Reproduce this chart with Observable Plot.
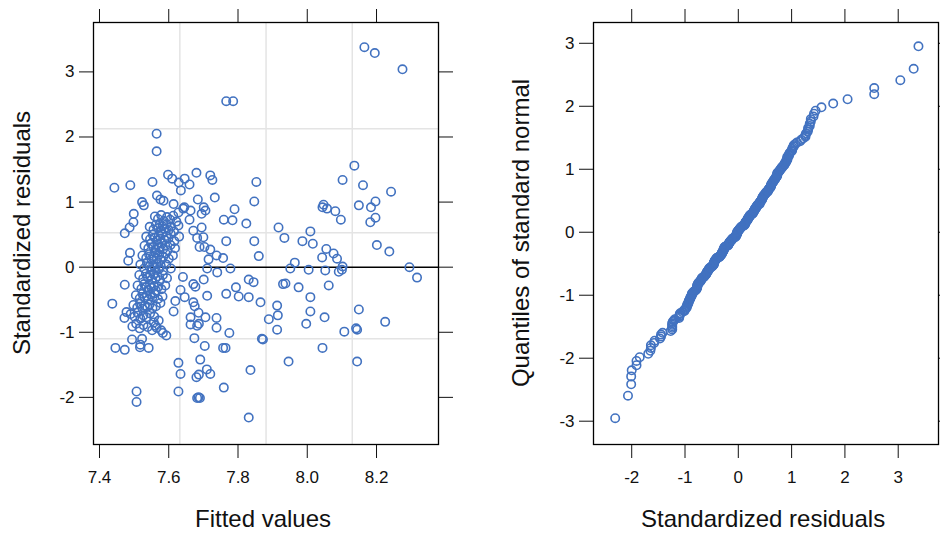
<!DOCTYPE html>
<html>
<head>
<meta charset="utf-8">
<script src="https://cdn.jsdelivr.net/npm/d3@7"></script>
<script src="https://cdn.jsdelivr.net/npm/@observablehq/plot@0.6"></script>
<style>
  html, body { margin: 0; padding: 0; background: #fff; }
  #wrap { position: relative; width: 940px; height: 534px; overflow: hidden; font-family: "Liberation Sans", Arial, sans-serif; color: #000; }
  .panel { position: absolute; top: 0; }
  .title { position: absolute; font-size: 24px; white-space: nowrap; color: #111; }
</style>
</head>
<body>
<div id="wrap">
  <div id="left" class="panel" style="left:0px"></div>
  <div id="right" class="panel" style="left:470px"></div>
  <div class="title" id="tl1">Standardized residuals</div>
  <div class="title" id="tl2">Fitted values</div>
  <div class="title" id="tr1">Quantiles of standard normal</div>
  <div class="title" id="tr2">Standardized residuals</div>
</div>
<script>
// ---- data ----
const fitted = [
  // sparse points
  8.165,8.195,8.275,7.766,7.786,7.565,7.565,7.443,7.489,7.553,
  7.598,7.680,7.720,7.726,7.646,7.660,7.610,7.629,7.853,7.733,
  7.847,7.790,7.759,7.784,7.824,7.917,7.934,8.009,7.986,8.016,
  7.766,7.847,7.860,8.136,8.102,8.161,8.242,8.047,8.057,8.044,
  8.081,8.097,8.149,8.197,8.184,8.197,8.182,8.201,8.237,8.055,
  8.076,8.043,8.086,8.102,8.091,8.100,8.052,8.004,7.964,7.951,
  8.295,8.317,8.062,7.975,8.009,7.930,7.937,8.009,7.913,7.915,
  7.889,7.913,7.997,8.050,8.149,8.225,8.107,8.141,8.144,7.869,
  7.872,8.044,7.946,8.144,7.836,7.831,7.759,7.682,7.690,7.628,
  7.507,7.507,7.628,7.634,7.691,7.720,7.687,7.680,7.704,7.674,
  7.757,7.764,7.775,7.738,7.738,7.706,7.663,7.682,7.663,7.687,
  7.675,7.711,7.701,7.677,7.646,7.766,7.794,7.802,7.831,7.831,
  7.845,7.865,7.740,7.778,7.757,7.738,7.720,7.703,7.682,7.684,
  7.706,7.701,7.645,7.663,7.660,7.437,7.472,7.478,7.446,7.473,
  7.494,7.523,7.518,7.542,7.583,7.593,7.578,7.557,7.562,7.614,
  7.619,7.634,7.641,7.473,7.483,7.488,7.473,7.499,7.523,7.528,
  7.576,7.566,
  // dense cluster
  7.560,7.569,7.578,7.586,7.595,7.604,7.613,7.622,7.574,
  7.545,7.556,7.563,7.570,7.576,7.582,7.588,7.594,7.600,7.607,7.615,7.628,
  7.535,7.546,7.554,7.560,7.566,7.571,7.576,7.581,7.587,7.593,7.599,7.606,7.616,7.630,
  7.530,7.541,7.549,7.556,7.562,7.567,7.572,7.578,7.584,7.590,7.597,7.605,7.618,
  7.524,7.535,7.543,7.550,7.556,7.561,7.566,7.572,7.578,7.584,7.591,7.600,7.612,
  7.518,7.529,7.537,7.544,7.550,7.555,7.560,7.565,7.571,7.577,7.584,7.593,7.606,
  7.515,7.526,7.534,7.540,7.546,7.551,7.556,7.562,7.568,7.575,7.583,7.595,
  7.510,7.521,7.529,7.535,7.541,7.546,7.551,7.557,7.563,7.570,7.579,7.590,
  7.505,7.516,7.524,7.530,7.536,7.541,7.547,7.553,7.560,7.569,7.582,
  7.498,7.509,7.517,7.524,7.531,7.538,7.545,7.553,7.563,7.576,
  7.490,7.501,7.510,7.518,7.527,7.536,7.546,7.558,7.571,
  7.495,7.506,7.516,7.527,7.539,7.552,
  // cluster edge
  7.635,7.585,7.614,7.628,7.642,7.695,7.487,7.498,7.671,7.695,7.700,
  7.689,7.517,7.565,7.671,7.686,7.671,7.710,7.686,7.715,7.711
];
const residuals = [
  3.38,3.29,3.04,2.55,2.55,2.05,1.78,1.22,1.26,1.31,
  1.42,1.45,1.41,1.34,1.36,1.27,1.36,1.30,1.31,1.07,
  1.01,0.89,0.73,0.72,0.67,0.61,0.45,0.55,0.40,0.36,
  0.40,0.40,0.17,1.56,1.34,1.26,1.16,0.96,0.90,0.92,
  0.86,0.73,0.95,1.01,0.92,0.76,0.69,0.34,0.24,0.28,
  0.21,0.15,0.13,0.01,-0.07,-0.04,-0.05,-0.04,0.07,-0.02,
  0.00,-0.16,-0.28,-0.31,-0.46,-0.26,-0.25,-0.68,-0.59,-0.74,
  -0.80,-0.96,-0.87,-0.77,-0.65,-0.84,-0.99,-0.94,-0.96,-1.10,
  -1.11,-1.24,-1.45,-1.45,-1.58,-2.31,-1.85,-2.01,-2.01,-1.91,
  -1.91,-2.07,-1.47,-1.64,-1.42,-1.64,-1.65,-1.69,-1.21,-1.09,
  -1.24,-1.24,-1.01,-0.93,-0.78,-0.77,-0.88,-0.90,-0.77,-0.87,
  -0.60,-0.44,-0.19,-0.30,-0.46,-0.41,-0.31,-0.45,-0.46,-0.19,
  -0.23,-0.54,-0.08,-0.02,0.14,0.18,0.27,0.31,0.45,1.04,
  0.87,0.92,0.92,0.87,0.73,-0.56,-0.78,-0.69,-1.24,-1.27,
  -1.11,-1.10,-1.19,-1.24,-1.01,-1.05,-0.97,-0.85,-0.90,-0.68,
  -0.52,-0.35,-0.15,0.52,0.10,0.22,-0.27,0.82,1.00,0.95,
  1.04,1.10,
  0.78,0.74,0.80,0.71,0.77,0.73,0.79,0.70,0.66,
  0.62,0.58,0.65,0.60,0.56,0.63,0.59,0.66,0.57,0.62,0.55,0.64,
  0.47,0.43,0.50,0.45,0.41,0.49,0.44,0.52,0.42,0.48,0.44,0.51,0.40,0.47,
  0.33,0.29,0.36,0.31,0.27,0.35,0.30,0.37,0.28,0.33,0.26,0.34,0.29,
  0.18,0.14,0.20,0.12,0.17,0.22,0.13,0.19,0.11,0.16,0.21,0.13,0.18,
  0.04,-0.02,0.06,0.01,-0.04,0.03,-0.01,0.05,-0.03,0.02,-0.05,0.04,-0.02,
  -0.12,-0.18,-0.10,-0.16,-0.13,-0.19,-0.11,-0.17,-0.14,-0.20,-0.12,-0.17,
  -0.28,-0.33,-0.26,-0.31,-0.35,-0.27,-0.32,-0.29,-0.36,-0.30,-0.34,-0.28,
  -0.43,-0.48,-0.41,-0.47,-0.44,-0.50,-0.42,-0.46,-0.40,-0.49,-0.45,
  -0.58,-0.62,-0.56,-0.64,-0.59,-0.61,-0.57,-0.63,-0.60,-0.55,
  -0.72,-0.76,-0.70,-0.79,-0.74,-0.77,-0.71,-0.76,-0.82,
  -0.91,-0.87,-0.94,-0.89,-0.92,-0.97,
  1.18,1.02,0.97,0.84,0.90,0.82,0.61,0.69,0.56,0.61,0.46,
  0.31,-1.23,-0.93,-0.54,-0.70,-0.26,-1.57,-2.00,0.12,-0.02
];
const fittedTicks = [7.4, 7.6, 7.8, 8.0, 8.2];
const residTicks = [-2, -1, 0, 1, 2, 3];
const normalTicks = [-3, -2, -1, 0, 1, 2, 3];
const gridFitted = [7.632, 7.881, 8.130];
const gridResid = [2.126, 0.528, -1.10];

// ---- build tables ----
const points = fitted.map((f, i) => ({fitted: f, resid: residuals[i]}));

// theoretical normal quantiles for the QQ panel (ppoints on the sorted residuals)
function qnorm(p) {
  const a=[-3.969683028665376e+01,2.209460984245205e+02,-2.759285104469687e+02,1.383577518672690e+02,-3.066479806614716e+01,2.506628277459239e+00];
  const b=[-5.447609879822406e+01,1.615858368580409e+02,-1.556989798598866e+02,6.680131188771972e+01,-1.328068155288572e+01];
  const c=[-7.784894002430293e-03,-3.223964580411365e-01,-2.400758277161838e+00,-2.549732539343734e+00,4.374664141464968e+00,2.938163982698783e+00];
  const d=[7.784695709041462e-03,3.224671290700398e-01,2.445134137142996e+00,3.754408661907416e+00];
  const pl = 0.02425, ph = 1 - pl;
  let q, r;
  if (p < pl) { q = Math.sqrt(-2*Math.log(p)); return (((((c[0]*q+c[1])*q+c[2])*q+c[3])*q+c[4])*q+c[5])/((((d[0]*q+d[1])*q+d[2])*q+d[3])*q+1); }
  if (p <= ph) { q = p - 0.5; r = q*q; return (((((a[0]*r+a[1])*r+a[2])*r+a[3])*r+a[4])*r+a[5])*q/(((((b[0]*r+b[1])*r+b[2])*r+b[3])*r+b[4])*r+1); }
  q = Math.sqrt(-2*Math.log(1-p)); return -(((((c[0]*q+c[1])*q+c[2])*q+c[3])*q+c[4])*q+c[5])/((((d[0]*q+d[1])*q+d[2])*q+d[3])*q+1);
}
const sorted = residuals.slice().sort((a, b) => a - b);
const n = sorted.length;
const qq = sorted.map((v, i) => ({resid: v, theo: qnorm((i + 0.5) / n)}));

const dotColor = "#4272c0";
const fontStyle = {fontFamily: "'Liberation Sans', Arial, sans-serif", fontSize: "17px", color: "#111", background: "transparent", overflow: "visible"};
const fmt = d => String(d);
const TS = 14;

const leftPlot = Plot.plot({
  width: 460, height: 534,
  marginLeft: 93, marginRight: 22, marginTop: 22, marginBottom: 90,
  style: fontStyle,
  x: {domain: [7.3827, 8.379], label: null},
  y: {domain: [-2.724, 3.759], label: null},
  marks: [
    Plot.gridX(gridFitted, {stroke: "#e4e4e4", strokeOpacity: 1, strokeWidth: 1.5}),
    Plot.gridY(gridResid, {stroke: "#e4e4e4", strokeOpacity: 1, strokeWidth: 1.5}),
    Plot.ruleY([0], {stroke: "#000", strokeWidth: 1.5}),
    Plot.dot(points, {x: "fitted", y: "resid", r: 4.2, stroke: dotColor, strokeWidth: 1.6}),
    Plot.axisX(fittedTicks, {anchor: "bottom", tickSize: TS, tickPadding: 12, tickFormat: d3.format(".1f"), label: null}),
    Plot.axisX(fittedTicks, {anchor: "top", tickSize: TS, tickFormat: () => "", label: null}),
    Plot.axisY(residTicks, {anchor: "left", tickSize: TS, tickPadding: 5, tickFormat: fmt, label: null}),
    Plot.axisY(residTicks, {anchor: "right", tickSize: TS, tickFormat: () => "", label: null}),
    Plot.frame({stroke: "#000", strokeWidth: 1.3})
  ]
});

const rightPlot = Plot.plot({
  width: 470, height: 534,
  marginLeft: 123, marginRight: 2, marginTop: 22, marginBottom: 90,
  style: fontStyle,
  x: {domain: [-2.717, 3.756], label: null},
  y: {domain: [-3.37, 3.33], label: null},
  marks: [
    Plot.dot(qq, {x: "resid", y: "theo", r: 4.2, stroke: dotColor, strokeWidth: 1.6}),
    Plot.axisX(residTicks, {anchor: "bottom", tickSize: TS, tickPadding: 12, tickFormat: fmt, label: null}),
    Plot.axisX(residTicks, {anchor: "top", tickSize: TS, tickFormat: () => "", label: null}),
    Plot.axisY(normalTicks, {anchor: "left", tickSize: TS, tickPadding: 5, tickFormat: fmt, label: null}),
    Plot.axisY(normalTicks, {anchor: "right", tickSize: TS, tickFormat: () => "", label: null}),
    Plot.frame({stroke: "#000", strokeWidth: 1.3})
  ]
});

document.getElementById("left").appendChild(leftPlot);
document.getElementById("right").appendChild(rightPlot);

function place(id, cx, cy, rotate) {
  const el = document.getElementById(id);
  const w = el.offsetWidth, h = el.offsetHeight;
  el.style.left = (cx - w / 2) + "px";
  el.style.top = (cy - h / 2) + "px";
  if (rotate) el.style.transform = "rotate(-90deg)";
}
place("tl1", 22, 233, true);
place("tl2", 263, 519, false);
place("tr1", 521, 233, true);
place("tr2", 763, 519, false);
</script>
</body>
</html>
